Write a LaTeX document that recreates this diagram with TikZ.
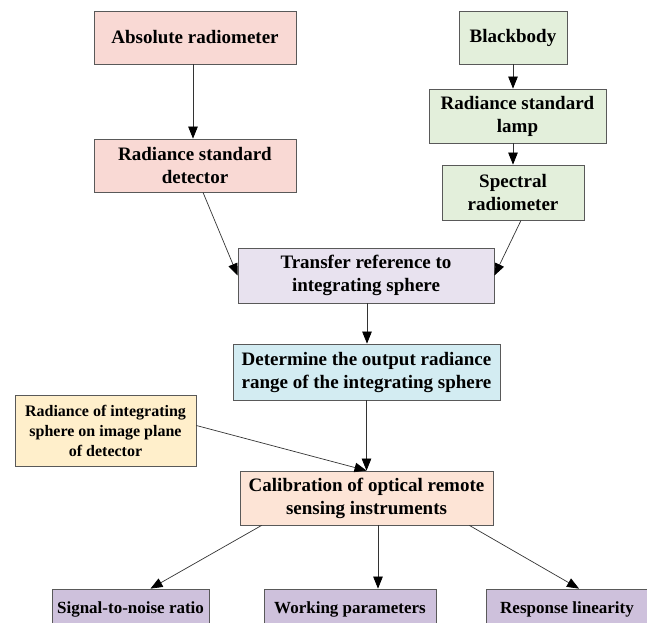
\documentclass[tikz,border=0pt]{standalone}
\usepackage{fontspec}
\setmainfont{Liberation Serif}
\usetikzlibrary{arrows.meta}

\definecolor{pinkbox}{RGB}{249,217,212}
\definecolor{greenbox}{RGB}{227,239,219}
\definecolor{lilacbox}{RGB}{232,226,239}
\definecolor{cyanbox}{RGB}{211,236,242}
\definecolor{yellowbox}{RGB}{255,239,203}
\definecolor{peachbox}{RGB}{253,228,214}
\definecolor{purplebox}{RGB}{206,193,220}

\begin{document}
\begin{tikzpicture}[x=1pt, y=-1pt,
        box/.style={draw=black!65, line width=0.8pt, inner sep=0pt, align=center,
            font=\bfseries\fontsize{19}{23}\selectfont},
        arr/.style={draw=black!80, line width=0.7pt, -{Triangle[length=12pt, width=9.5pt, color=black]}}]
                \clip (0,0) rectangle (647,622);
                \node[box, fill=pinkbox, minimum width=202pt, minimum height=53pt] (absrad) at (195,37.5) {Absolute radiometer};
                \node[box, fill=pinkbox, minimum width=202pt, minimum height=53pt] (detector) at (195,165.5) {Radiance standard\\detector};
                \node[box, fill=greenbox, minimum width=108pt, minimum height=53pt] (blackbody) at (513,37.5) {Blackbody};
                \node[box, fill=greenbox, minimum width=177pt, minimum height=54pt] (lamp) at (517.5,116) {Radiance standard\\lamp};
                \node[box, fill=greenbox, minimum width=142pt, minimum height=55pt] (specrad) at (513,192.5) {Spectral\\radiometer};
                \node[box, fill=lilacbox, minimum width=256pt, minimum height=55pt] (transfer) at (366,275.5) {Transfer reference to\\integrating sphere};
                \node[box, fill=cyanbox, minimum width=267pt, minimum height=56pt] (range) at (366.5,372) {Determine the output radiance\\range of the integrating sphere};
                \node[box, fill=yellowbox, minimum width=181pt, minimum height=71pt,
                    font=\bfseries\fontsize{16}{20}\selectfont] (imgplane) at (105.5,430.5) {Radiance of integrating\\sphere on image plane\\of detector};
                \node[box, fill=peachbox, minimum width=253pt, minimum height=54pt] (calib) at (366.5,498) {Calibration of optical remote\\sensing instruments};
                \node[box, fill=purplebox, minimum width=157pt, minimum height=40pt,
                    font=\bfseries\fontsize{17}{21}\selectfont] (snr) at (130.5,609) {Signal-to-noise ratio};
                \node[box, fill=purplebox, minimum width=172pt, minimum height=40pt,
                    font=\bfseries\fontsize{17}{21}\selectfont] (workpar) at (350,609) {Working parameters};
                \node[box, fill=purplebox, minimum width=170pt, minimum height=40pt,
                    font=\bfseries\fontsize{17}{21}\selectfont] (linear) at (571,609) {\hspace*{-8pt}Response linearity};
                \draw[arr] ([xshift=-2pt]absrad.south) -- ([xshift=-2pt]detector.north);
                \draw[arr] (blackbody.south) -- (lamp.north -| blackbody.south);
                \draw[arr] (lamp.south -| specrad.north) -- (specrad.north);
                \draw[arr] ([xshift=8pt]detector.south) -- (transfer.west);
                \draw[arr] ([xshift=8pt]specrad.south) -- (transfer.east);
                \draw[arr] ([xshift=1pt]transfer.south) -- ([xshift=0.5pt]range.north);
                \draw[arr] (range.south) -- (calib.north);
                \draw[arr] ([yshift=5pt]imgplane.east) -- (calib.north);
                \draw[arr] ([xshift=22pt]calib.south west) -- ([xshift=20pt]snr.north);
                \draw[arr] ([xshift=11.5pt]calib.south) -- ([xshift=28pt]workpar.north);
                \draw[arr] ([xshift=-24pt]calib.south east) -- ([xshift=8pt]linear.north);
            \end{tikzpicture}
\end{document}
